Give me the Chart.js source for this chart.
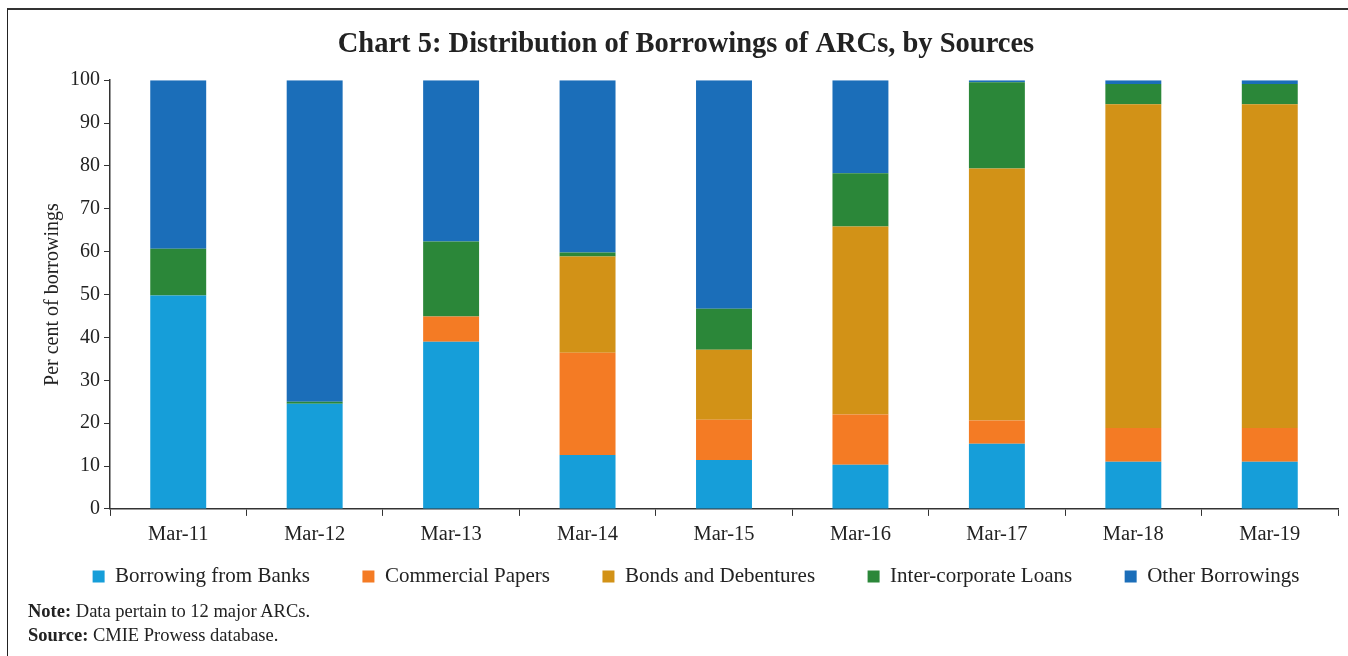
<!DOCTYPE html>
<html>
<head>
<meta charset="utf-8">
<script src="https://cdn.jsdelivr.net/npm/chart.js@4.4.1/dist/chart.umd.min.js"></script>
<style>
  html, body { margin: 0; padding: 0; background: #fff; }
  #wrap { position: relative; width: 1348px; height: 656px; overflow: hidden; }
  #frame { position: absolute; left: 7px; top: 8px; right: -2px; bottom: -2px;
           border-top: 2px solid #333; border-left: 1.5px solid #222; pointer-events: none; }
  .note { position: absolute; left: 28px; font-family: "Liberation Serif", serif;
          font-size: 18.5px; color: #222; }
</style>
</head>
<body>
<div id="wrap">
  <canvas id="arcChart" width="1348" height="656"></canvas>
  <div id="frame"></div>
  <div class="note" style="top: 601px;"><b>Note:</b> Data pertain to 12 major ARCs.</div>
  <div class="note" style="top: 625px;"><b>Source:</b> CMIE Prowess database.</div>
</div>
<script>
// Datos (porcentajes)
const periodos = ['Mar-11', 'Mar-12', 'Mar-13', 'Mar-14', 'Mar-15', 'Mar-16', 'Mar-17', 'Mar-18', 'Mar-19'];
const bancos = [49.8, 24.5, 39.0, 12.6, 11.4, 10.3, 15.2, 11.0, 11.0];
const papelesComerciales = [0, 0, 5.9, 23.8, 9.4, 11.7, 5.4, 7.9, 7.9];
const bonos = [0, 0, 0, 22.5, 16.3, 43.9, 58.8, 75.5, 75.5];
const interCorporativos = [10.9, 0.5, 17.5, 0.9, 9.6, 12.4, 20.1, 4.7, 4.7];
const otros = [39.3, 75.0, 37.6, 40.2, 53.3, 21.7, 0.5, 0.9, 0.9];
const ticksY = [0, 10, 20, 30, 40, 50, 60, 70, 80, 90, 100];

const fuente = '"Liberation Serif", "DejaVu Serif", serif';
Chart.defaults.font.family = fuente;
Chart.defaults.color = '#222';

// mueve la leyenda y el título: el padding grande de la leyenda deja demasiado hueco arriba
const moverCajas = {
    id: 'moverCajas',
    afterLayout(chart) {
        const lg = chart.legend;
        if (lg) {
            lg.top -= 39;
            lg.bottom -= 39;
            lg.left += 27;
            lg.right += 27;
        }
        const tt = chart.titleBlock;
        if (tt) {
            tt.left += 17;
            tt.right += 17;
        }
    }
};

const ctx = document.getElementById('arcChart').getContext('2d');
const arcChart = new Chart(ctx, {
    type: 'bar',
    data: {
        labels: periodos,
        datasets: [
            { label: 'Borrowing from Banks', data: bancos, backgroundColor: '#169ed9' },
            { label: 'Commercial Papers', data: papelesComerciales, backgroundColor: '#f47b24' },
            { label: 'Bonds and Debentures', data: bonos, backgroundColor: '#d29217' },
            { label: 'Inter-corporate Loans', data: interCorporativos, backgroundColor: '#2b8739' },
            { label: 'Other Borrowings', data: otros, backgroundColor: '#1b6eb9' }
        ]
    },
    plugins: [moverCajas],
    options: {
        responsive: false,
        animation: false,
        datasets: {
            bar: { barPercentage: 0.41, categoryPercentage: 1, borderWidth: 0 }
        },
        layout: { padding: { left: 0, right: 10, top: 10, bottom: 20 } },
        plugins: {
            title: {
                display: true,
                text: 'Chart 5: Distribution of Borrowings of ARCs, by Sources',
                font: { size: 28.5, weight: 'bold' },
                color: '#222',
                padding: { top: 18, bottom: 18 }
            },
            legend: {
                position: 'bottom',
                labels: {
                    boxWidth: 12,
                    boxHeight: 12,
                    padding: 52.5,
                    font: { size: 21 },
                    color: '#222'
                }
            },
            tooltip: { enabled: false }
        },
        scales: {
            x: {
                stacked: true,
                grid: { display: true, drawOnChartArea: false, offset: true, tickLength: 7, color: '#333' },
                border: { color: '#333', width: 1.5 },
                ticks: { font: { size: 20.5 }, color: '#222', padding: 6 }
            },
            y: {
                stacked: true,
                min: 0,
                max: 100,
                afterBuildTicks: function(scale) {
                    scale.ticks = ticksY.map(v => ({ value: v }));
                },
                grid: { display: true, drawOnChartArea: false, tickLength: 6, color: '#333' },
                border: { color: '#333', width: 1.5 },
                ticks: { font: { size: 20 }, color: '#222', padding: 4 },
                title: {
                    display: true,
                    text: 'Per cent of borrowings',
                    font: { size: 20 },
                    color: '#222',
                    padding: { top: 41, bottom: 0 }
                },
                afterFit: function(scale) { scale.width = 110; }
            }
        }
    }
});
</script>
</body>
</html>
